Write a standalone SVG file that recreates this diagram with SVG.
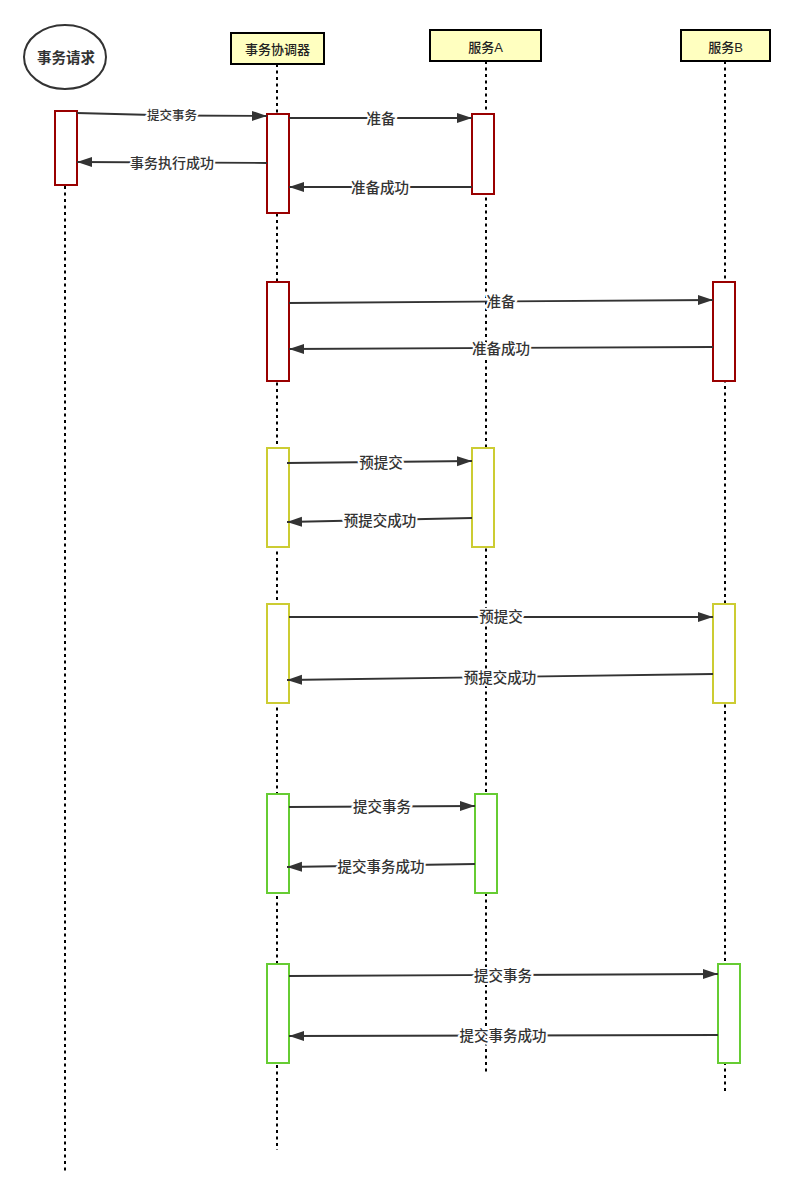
<svg xmlns="http://www.w3.org/2000/svg" width="794" height="1198" viewBox="0 0 794 1198">
<style>
.life{stroke:#000;stroke-width:2;stroke-dasharray:3 3.5;fill:none}
.head{fill:#ffffc0;stroke:#000;stroke-width:2}
.ht{font-family:"Liberation Sans","Noto Sans CJK SC",sans-serif;font-size:13px;fill:#222;text-anchor:middle;dominant-baseline:central;font-weight:500}
.red{fill:#fff;stroke:#990000;stroke-width:2}
.yel{fill:#fff;stroke:#cccc33;stroke-width:2}
.grn{fill:#fff;stroke:#66cc33;stroke-width:2}
.msg{stroke:#333;stroke-width:1.8;fill:none;marker-end:url(#arr)}
.lb{font-family:"Liberation Sans","Noto Sans CJK SC",sans-serif;font-size:14.5px;font-weight:500;fill:#333;text-anchor:middle;dominant-baseline:central;stroke:#fff;stroke-width:4;paint-order:stroke;stroke-linejoin:round}
</style>
<defs>
<marker id="arr" markerWidth="16" markerHeight="12" refX="15" refY="6" orient="auto" markerUnits="userSpaceOnUse">
<path d="M0,1 L15,6 L0,11 Z" fill="#333"/>
</marker>
</defs>
<rect width="794" height="1198" fill="#fff"/>
<g id="lifelines">
<line class="life" x1="65" y1="186" x2="65" y2="1172"/>
<line class="life" x1="277" y1="64" x2="277" y2="1150"/>
<line class="life" x1="486" y1="61" x2="486" y2="1072"/>
<line class="life" x1="725" y1="61" x2="725" y2="1092"/>
</g>
<g id="request">
<ellipse cx="65" cy="57" rx="41" ry="32" fill="#fff" stroke="#333" stroke-width="2"/>
<text class="ht" x="66" y="58" style="font-size:14.5px;fill:#333;font-weight:bold">事务请求</text>
</g>
<g id="coordinator">
<rect class="head" x="231" y="33" width="93" height="31"/>
<text class="ht" x="277.5" y="49">事务协调器</text>
</g>
<g id="serviceA">
<rect class="head" x="430" y="30" width="111" height="31"/>
<text class="ht" x="485.5" y="47">服务A</text>
</g>
<g id="serviceB">
<rect class="head" x="681" y="30" width="89" height="31"/>
<text class="ht" x="725.5" y="47">服务B</text>
</g>
<g id="activations">
<rect class="red" x="55" y="111" width="22" height="74"/>
<rect class="red" x="267" y="114" width="22" height="99"/>
<rect class="red" x="472" y="114" width="22" height="80"/>
<rect class="red" x="267" y="282" width="22" height="99"/>
<rect class="red" x="713" y="282" width="22" height="99"/>
<rect class="yel" x="267" y="448" width="22" height="99"/>
<rect class="yel" x="472" y="448" width="22" height="99"/>
<rect class="yel" x="267" y="604" width="22" height="99"/>
<rect class="yel" x="713" y="604" width="22" height="99"/>
<rect class="grn" x="267" y="794" width="22" height="99"/>
<rect class="grn" x="475" y="794" width="22" height="99"/>
<rect class="grn" x="267" y="964" width="22" height="99"/>
<rect class="grn" x="718" y="964" width="22" height="99"/>
</g>
<g id="connectors">
<path class="msg" d="M77,113 L172,115.5 L267,116"/>
<path class="msg" d="M267,163 L77,162"/>
<path class="msg" d="M289,118 L472,118"/>
<path class="msg" d="M472,187 L289,187"/>
<path class="msg" d="M289,303 L713,300"/>
<path class="msg" d="M713,347 L289,349"/>
<path class="msg" d="M287,463 L472,461"/>
<path class="msg" d="M472,518 L287,522"/>
<path class="msg" d="M289,617 L713,617"/>
<path class="msg" d="M713,674 L287,680"/>
<path class="msg" d="M289,807 L475,806"/>
<path class="msg" d="M475,864 L287,867"/>
<path class="msg" d="M289,976 L718,974"/>
<path class="msg" d="M718,1035 L289,1036"/>
</g>
<g id="labels">
<text class="lb" x="172" y="116" style="font-size:12.5px">提交事务</text>
<text class="lb" x="172" y="163" style="font-size:14px">事务执行成功</text>
<text class="lb" x="381" y="119">准备</text>
<text class="lb" x="380" y="188">准备成功</text>
<text class="lb" x="501" y="302">准备</text>
<text class="lb" x="501" y="349">准备成功</text>
<text class="lb" x="381" y="463">预提交</text>
<text class="lb" x="380" y="521">预提交成功</text>
<text class="lb" x="501" y="617">预提交</text>
<text class="lb" x="500" y="678">预提交成功</text>
<text class="lb" x="382" y="807">提交事务</text>
<text class="lb" x="381" y="867">提交事务成功</text>
<text class="lb" x="503" y="976">提交事务</text>
<text class="lb" x="503" y="1036">提交事务成功</text>
</g>
</svg>
